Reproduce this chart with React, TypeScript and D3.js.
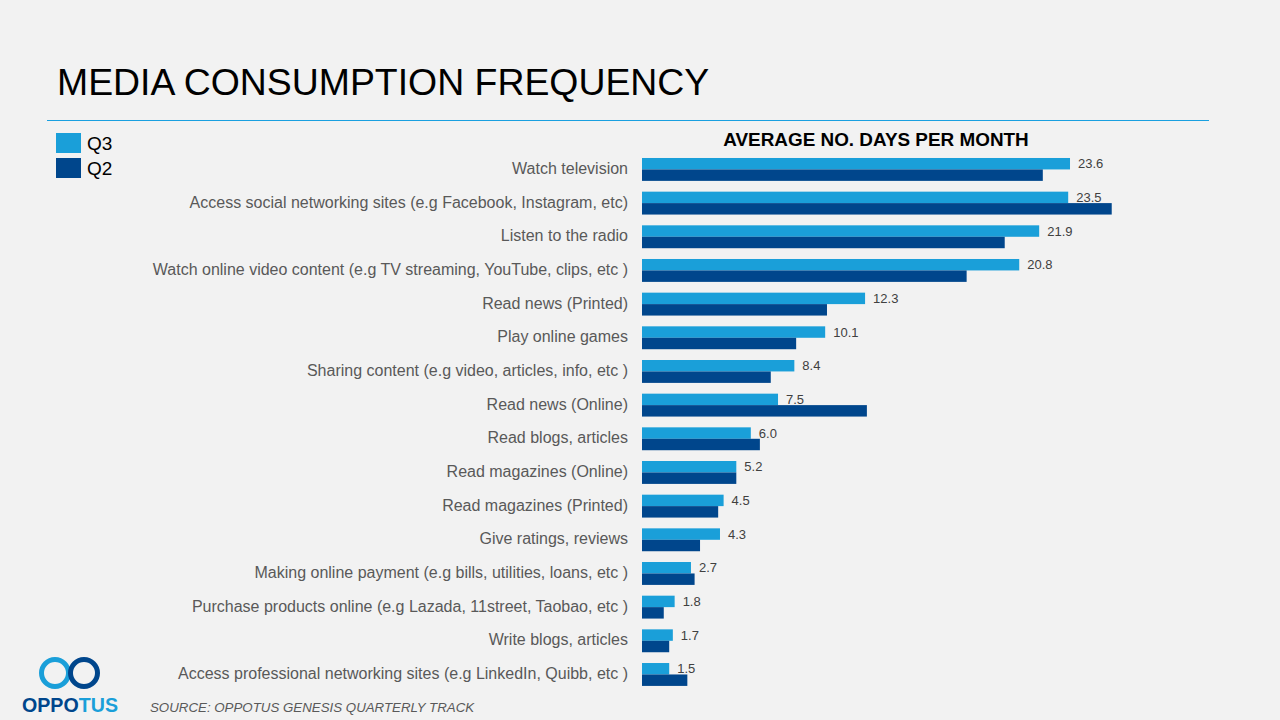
import React from "react";
import * as d3 from "d3";

const categories = [
  "Watch television",
  "Access social networking sites (e.g Facebook, Instagram, etc)",
  "Listen to the radio",
  "Watch online video content (e.g TV streaming, YouTube, clips, etc )",
  "Read news (Printed)",
  "Play online games",
  "Sharing content (e.g video, articles, info, etc )",
  "Read news (Online)",
  "Read blogs, articles",
  "Read magazines (Online)",
  "Read magazines (Printed)",
  "Give ratings, reviews",
  "Making online payment (e.g bills, utilities, loans, etc )",
  "Purchase products online (e.g Lazada, 11street, Taobao, etc )",
  "Write blogs, articles",
  "Access professional networking sites (e.g LinkedIn, Quibb, etc )",
];

const q3Values = [23.6, 23.5, 21.9, 20.8, 12.3, 10.1, 8.4, 7.5, 6.0, 5.2, 4.5, 4.3, 2.7, 1.8, 1.7, 1.5];
const q2Values = [22.1, 25.9, 20.0, 17.9, 10.2, 8.5, 7.1, 12.4, 6.5, 5.2, 4.2, 3.2, 2.9, 1.2, 1.5, 2.5];

const seriesNames = ["Q3", "Q2"];
const seriesColors = ["#1a9fd9", "#00468c"];

const FONT = "Arial, 'Liberation Sans', sans-serif";

const App = () => {
  const width = 1280;
  const height = 720;

  const x = d3.scaleLinear().domain([0, 30]).range([642, 642 + 30 * 18.136]);
  const y = d3
    .scaleBand<string>()
    .domain(categories)
    .range([152.6, 691.3])
    .paddingInner(0.32)
    .paddingOuter(0.16);
  const inner = d3.scaleBand<string>().domain(seriesNames).range([0, y.bandwidth()]);

  const series = [q3Values, q2Values];

  return (
    <div style={{ position: "absolute", left: 0, top: 0 }}>
      <svg width={width} height={height} style={{ display: "block", fontFamily: FONT }}>
        <rect width={width} height={height} fill="#f2f2f2" />

        {/* Title */}
        <text x={57} y={95} fontSize={37.4} fill="#000">
          MEDIA CONSUMPTION FREQUENCY
        </text>
        <line x1={47} x2={1209} y1={120.5} y2={120.5} stroke="#1aa0e0" strokeWidth={1} />

        {/* Legend */}
        {seriesNames.map((s, i) => (
          <g key={s} transform={`translate(56, ${133 + i * 25})`}>
            <rect width={25} height={20} fill={seriesColors[i]} />
            <text x={31} y={17} fontSize={19} fill="#000">
              {s}
            </text>
          </g>
        ))}

        {/* Header */}
        <text x={876} y={146} fontSize={18.9} fontWeight="bold" textAnchor="middle" fill="#000">
          AVERAGE NO. DAYS PER MONTH
        </text>

        {/* Bars */}
        {categories.map((c, ci) => (
          <g key={c} transform={`translate(0, ${y(c)})`}>
            <text
              x={628}
              y={y.bandwidth() / 2 - 1}
              dy="0.35em"
              textAnchor="end"
              fontSize={16}
              fill="#595959"
            >
              {c}
            </text>
            {series.map((vals, si) => (
              <rect
                key={si}
                x={x(0)}
                y={inner(seriesNames[si])}
                width={x(vals[ci]) - x(0)}
                height={inner.bandwidth()}
                fill={seriesColors[si]}
              />
            ))}
            <text
              x={x(q3Values[ci]) + 8}
              y={(inner(seriesNames[0]) ?? 0) + inner.bandwidth() / 2}
              dy="0.35em"
              fontSize={13}
              fill="#404040"
            >
              {q3Values[ci].toFixed(1)}
            </text>
          </g>
        ))}

        {/* Logo */}
        <circle cx={55} cy={673} r={13.5} fill="none" stroke="#1a9fd9" strokeWidth={5} />
        <circle cx={84} cy={673} r={13.5} fill="none" stroke="#00468c" strokeWidth={5} />
        <text x={22} y={712} fontSize={21} fontWeight={900} textLength={96} lengthAdjust="spacingAndGlyphs">
          <tspan fill="#00468c">OPPO</tspan>
          <tspan fill="#1a9fd9">TUS</tspan>
        </text>

        {/* Source */}
        <text x={150} y={712} fontSize={13.3} fontStyle="italic" fill="#595959">
          SOURCE: OPPOTUS GENESIS QUARTERLY TRACK
        </text>
      </svg>
    </div>
  );
};

export default App;
